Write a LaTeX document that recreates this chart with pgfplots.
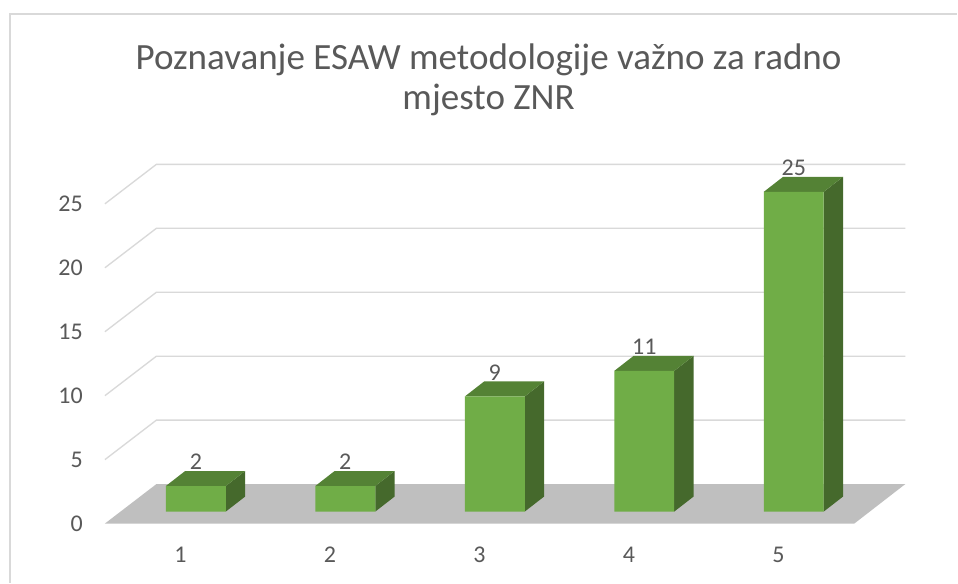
\documentclass[border=0pt]{standalone}
\usepackage{pgfplots}
\pgfplotsset{compat=1.18}
\usepackage{pgfplotstable}
\usepackage{fontspec}
\setmainfont{Carlito}
\definecolor{frontc}{HTML}{70AD47}
\definecolor{topc}{HTML}{548235}
\definecolor{sidec}{HTML}{45692C}
\definecolor{floorc}{HTML}{BFBFBF}
\definecolor{gridc}{HTML}{D9D9D9}
\definecolor{textc}{HTML}{595959}
\newcommand\tickfont{\fontsize{18}{21}\selectfont}
\newcommand\titlefont{\fontsize{27.8}{32}\selectfont}

\pgfplotstableread{
x v
196.0 2
345.6 2
495.2 9
644.8 11
794.4 25
}\datatable

\begin{document}
\begin{tikzpicture}
\begin{axis}[x=0.75pt, y=9.6pt, xmin=0, xmax=958, ymin=-5.546875, ymax=40,
  hide axis, clip=false, /pgf/number format/assume math mode=true]
\fill[white] (axis cs:0,-5.546875) rectangle (axis cs:958,40);
\draw[gridc, line width=1.2pt] (axis cs:10,-5.546875) -- (axis cs:10,38.9) -- (axis cs:958,38.9);
% title
\node[anchor=base, text=textc, font=\titlefont, inner sep=0pt] at (axis cs:489,34.57) {Poznavanje ESAW metodologije važno za radno};
\node[anchor=base, text=textc, font=\titlefont, inner sep=0pt] at (axis cs:489,31.41) {mjesto ZNR};
% back wall gridlines
\addplot[gridc, line width=1pt] coordinates {(105,4.0625) (156.5,7.148) (906,7.148)};
\addplot[gridc, line width=1pt] coordinates {(105,9.0625) (156.5,12.148) (906,12.148)};
\addplot[gridc, line width=1pt] coordinates {(105,14.0625) (156.5,17.148) (906,17.148)};
\addplot[gridc, line width=1pt] coordinates {(105,19.0625) (156.5,22.148) (906,22.148)};
\addplot[gridc, line width=1pt] coordinates {(105,24.0625) (156.5,27.148) (906,27.148)};
% floor
\addplot[fill=floorc, draw=none] coordinates {(105,-0.9375) (855,-0.9375) (906,2.148) (156.5,2.148)} -- cycle;
% y labels
\node[anchor=east, inner sep=0pt, text=textc, font=\tickfont] at (axis cs:83,-0.9375) {0};
\node[anchor=east, inner sep=0pt, text=textc, font=\tickfont] at (axis cs:83,4.0625) {5};
\node[anchor=east, inner sep=0pt, text=textc, font=\tickfont] at (axis cs:83,9.0625) {10};
\node[anchor=east, inner sep=0pt, text=textc, font=\tickfont] at (axis cs:83,14.0625) {15};
\node[anchor=east, inner sep=0pt, text=textc, font=\tickfont] at (axis cs:83,19.0625) {20};
\node[anchor=east, inner sep=0pt, text=textc, font=\tickfont] at (axis cs:83,24.0625) {25};
% x labels
\node[inner sep=0pt, text=textc, font=\tickfont] at (axis cs:180.7,-3.36) {1};
\node[inner sep=0pt, text=textc, font=\tickfont] at (axis cs:330.3,-3.36) {2};
\node[inner sep=0pt, text=textc, font=\tickfont] at (axis cs:479.9,-3.36) {3};
\node[inner sep=0pt, text=textc, font=\tickfont] at (axis cs:629.5,-3.36) {4};
\node[inner sep=0pt, text=textc, font=\tickfont] at (axis cs:779.1,-3.36) {5};
% top and side faces of bars, from the table
\pgfplotsinvokeforeach{0,...,4}{
  \pgfplotstablegetelem{#1}{x}\of\datatable
  \pgfmathsetmacro\xl{\pgfplotsretval-30}
  \pgfmathsetmacro\xr{\pgfplotsretval+30}
  \pgfmathsetmacro\xlb{\xl+19.3}
  \pgfmathsetmacro\xrb{\xr+19.3}
  \pgfplotstablegetelem{#1}{v}\of\datatable
  \pgfmathsetmacro\vt{\pgfplotsretval}
  \pgfmathsetmacro\vtb{\vt+1.172}
  \edef\temp{\noexpand\addplot[fill=sidec, draw=none] coordinates {(\xr,0) (\xrb,1.172) (\xrb,\vtb) (\xr,\vt)} -- cycle;
    \noexpand\addplot[fill=topc, draw=none] coordinates {(\xl,\vt) (\xr,\vt) (\xrb,\vtb) (\xlb,\vtb)} -- cycle;}
  \temp
}
% front faces
\addplot[ybar, bar width=60, bar shift=0pt, fill=frontc, draw=none,
  nodes near coords,
  every node near coord/.append style={font=\tickfont, text=textc, yshift=8.6pt}]
  table[x=x, y=v] {\datatable};
\end{axis}
\end{tikzpicture}
\end{document}
